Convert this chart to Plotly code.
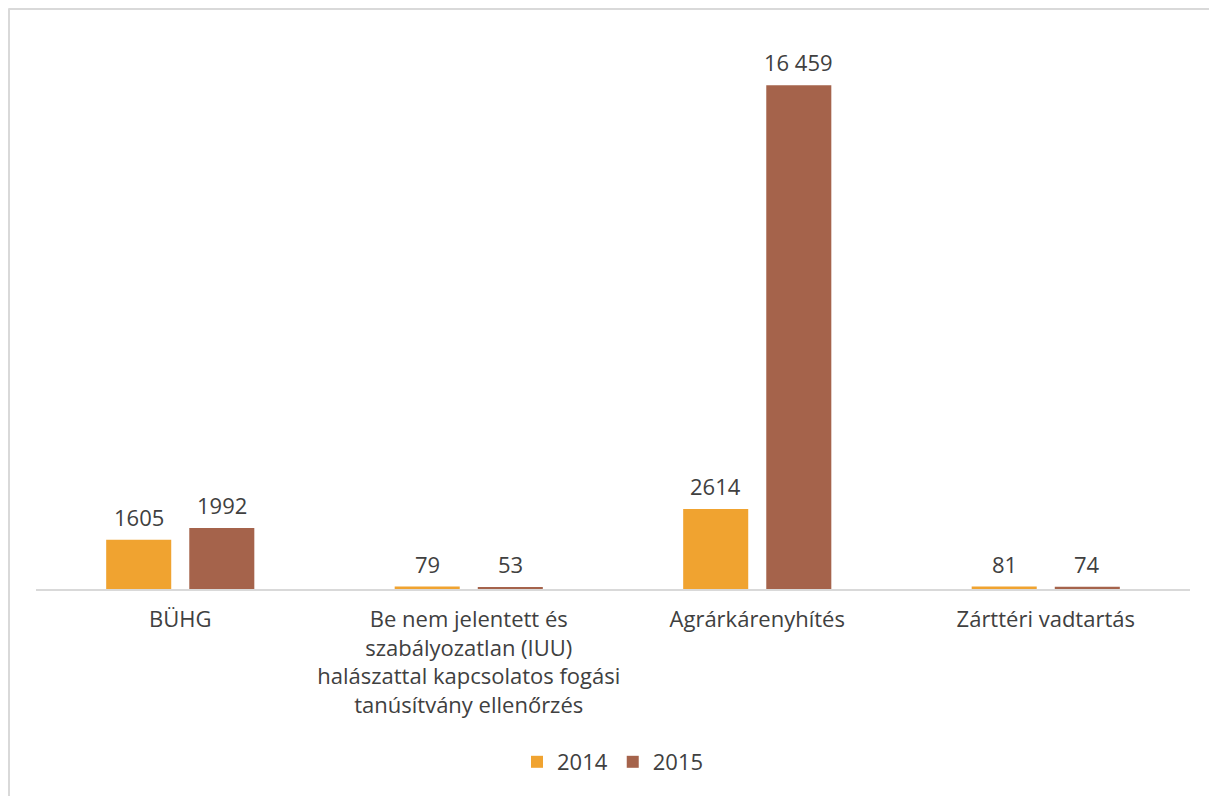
import plotly.graph_objects as go

categories = [
    "BÜHG",
    "Be nem jelentett és<br>szabályozatlan (IUU)<br>halászattal kapcsolatos fogási<br>tanúsítvány ellenőrzés",
    "Agrárkárenyhítés",
    "Zárttéri vadtartás",
]
series_names = ["2014", "2015"]
values_2014 = [1605, 79, 2614, 81]
values_2015 = [1992, 53, 16459, 74]
colors = ["#F0A330", "#A5634B"]

# page body has an 8px margin, so the figure starts at (8, 8)
W, H = 1209, 788
L, R, T, B = 28, 27, 30, 207
FONT = "Open Sans"
TXT = "#404040"
FS = 22

def fmt(v):
    s = str(v)
    if v >= 10000:
        s = f"{v:,}".replace(",", " ")
    return s

fig = go.Figure()
for name, vals, col in zip(series_names, [values_2014, values_2015], colors):
    fig.add_trace(go.Bar(x=categories, y=vals, name=name, marker=dict(color=col, line=dict(width=0))))

annotations = []
for vals, sh in zip([values_2014, values_2015], [-41.5, 41.5]):
    for c, v in zip(categories, vals):
        annotations.append(dict(x=c, y=v, text=fmt(v), showarrow=False, xshift=sh, yshift=6,
                                yanchor="bottom", xanchor="center",
                                font=dict(family=FONT, size=FS, color=TXT)))

pw = W - L - R
ph = H - T - B
bx = 0.5  # border position in figure px
shapes = [
    dict(type="line", xref="paper", yref="paper", x0=(bx - L) / pw, x1=(W + 5 - L) / pw,
         y0=(H - B - bx) / ph, y1=(H - B - bx) / ph, line=dict(color="#D9D9D9", width=3)),
    dict(type="line", xref="paper", yref="paper", x0=(bx - L) / pw, x1=(bx - L) / pw,
         y0=(H - B - bx) / ph, y1=-(B + 10) / ph, line=dict(color="#D9D9D9", width=3)),
]

fig.update_layout(
    width=W, height=H,
    margin=dict(l=L, r=R, t=T, b=B, pad=0),
    paper_bgcolor="white", plot_bgcolor="white",
    barmode="group", bargap=0.424, bargroupgap=0.217,
    font=dict(family=FONT, size=FS, color=TXT),
    xaxis=dict(showline=True, linecolor="#D9D9D9", linewidth=1.5, ticks="", showgrid=False,
               tickfont=dict(family=FONT, size=FS, color=TXT), ticklabelstandoff=10, automargin=False),
    yaxis=dict(range=[0, 18000], visible=False, showgrid=False, zeroline=False),
    legend=dict(orientation="h", x=0.5, xanchor="center", y=(H - B - 754) / ph, yanchor="middle",
                font=dict(family=FONT, size=FS, color=TXT), itemwidth=30, traceorder="normal"),
    annotations=annotations,
    shapes=shapes,
    showlegend=True,
)

fig.write_html("out.html")
